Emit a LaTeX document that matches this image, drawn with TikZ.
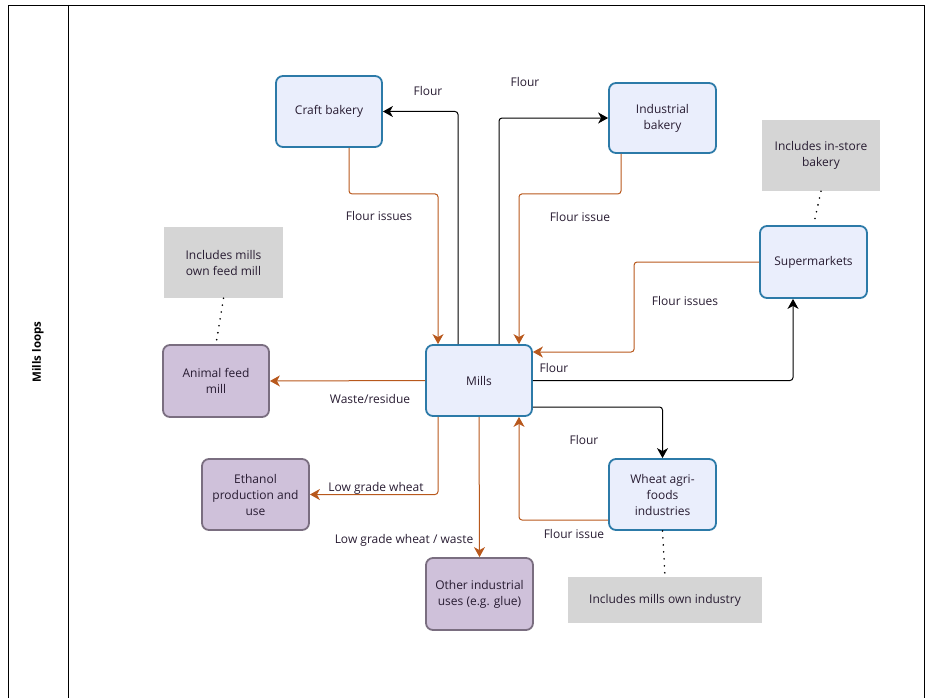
\documentclass[tikz,border=0pt]{standalone}
\usepackage{fontspec}
\setmainfont{Open Sans}
\usetikzlibrary{arrows.meta}
\definecolor{bborder}{RGB}{44,122,168}
\definecolor{bfill}{RGB}{234,238,252}
\definecolor{pborder}{RGB}{122,110,128}
\definecolor{pfill}{RGB}{207,193,218}
\definecolor{notefill}{RGB}{213,213,213}
\definecolor{flow}{RGB}{184,88,28}
\definecolor{txt}{RGB}{40,28,50}
\begin{document}
\begin{tikzpicture}[x=1pt,y=-1pt,
  every node/.style={font=\fontsize{12}{16}\selectfont, text=txt},
  bluebox/.style={draw=bborder, fill=bfill, line width=1.8pt, rounded corners=7pt, align=center, inner sep=2pt},
  purplebox/.style={draw=pborder, fill=pfill, line width=1.8pt, rounded corners=7pt, align=center, inner sep=2pt},
  notebox/.style={fill=notefill, align=center, inner sep=2pt},
  blk/.style={draw=black, line width=1pt, rounded corners=3pt, -{Stealth[length=10pt,width=11pt,inset=3pt]}},
  org/.style={draw=flow, line width=1pt, rounded corners=3pt, -{Stealth[length=10pt,width=11pt,inset=3pt]}},
  dotline/.style={draw=black, line width=1.8pt, line cap=round, dash pattern=on 0pt off 7pt},
  lbl/.style={inner sep=1pt}
]
\useasboundingbox (0,0) rectangle (925,698);
% frame
\draw[line width=0.9pt] (8,698) -- (8,5) -- (924,5) -- (924,698);
\draw[line width=0.9pt] (68,5) -- (68,698);
\node[rotate=90, font=\fontsize{11.5}{15}\selectfont\bfseries, text=black] (lane) at (38,352) {Mills loops};

% nodes
\node[bluebox, minimum width=106, minimum height=71] (craft) at (329,111.5) {Craft bakery};
\node[bluebox, minimum width=107, minimum height=70] (indus) at (662.5,118) {Industrial\\bakery};
\node[notebox, minimum width=118, minimum height=71] (storenote) at (821,155.5) {Includes in-store\\bakery};
\node[bluebox, minimum width=107, minimum height=72] (super) at (813.5,262) {Supermarkets};
\node[notebox, minimum width=119, minimum height=71] (feednote) at (223.5,262.5) {Includes mills\\own feed mill};
\node[purplebox, minimum width=106, minimum height=72] (feed) at (216,381) {Animal feed\\mill};
\node[bluebox, minimum width=106, minimum height=71] (mills) at (479,380.5) {Mills};
\node[purplebox, minimum width=107, minimum height=71] (eth) at (255.5,494.5) {Ethanol\\production and\\use};
\node[purplebox, minimum width=107, minimum height=72] (other) at (479.5,594) {Other industrial\\uses (e.g. glue)};
\node[bluebox, minimum width=107, minimum height=71] (wheat) at (662.5,494.5) {Wheat agri-\\foods\\industries};
\node[notebox, minimum width=194, minimum height=46] (indnote) at (665,600) {Includes mills own industry};

% connectors
\draw[blk] ([xshift=-21pt]mills.north) |- (craft.east);
\node[lbl] (l1) at (428,91) {Flour};
\draw[blk] ([xshift=20pt]mills.north) |- (indus.west);
\node[lbl] (l2) at (525,82) {Flour};
\draw[org] ([xshift=20pt]craft.south) -- ++(0,46) -| ([xshift=-41pt]mills.north);
\node[lbl] (l3) at (379,216) {Flour issues};
\draw[org] ([xshift=-41.5pt]indus.south) -- ++(0,40) -| ([xshift=40pt]mills.north);
\node[lbl] (l4) at (580,217) {Flour issue};
\draw[org] (super.west) -- ++(-125,0) |- ([yshift=28.5pt]mills.east);
\node[lbl] (l5) at (685,301) {Flour issues};
\draw[blk] (mills.east) -| ([xshift=-20.5pt]super.south);
\node[lbl] (l6) at (554,368) {Flour};
\draw[blk] ([yshift=-26.5pt]mills.east) -| (wheat.north);
\node[lbl] (l7) at (584,440) {Flour};
\draw[org] ([yshift=-25.5pt]wheat.west) -| ([xshift=40pt]mills.south);
\node[lbl] (l8) at (574,534) {Flour issue};
\draw[org] (mills.west) -- (feed.east);
\node[lbl] (l9) at (370,399) {Waste/residue};
\draw[org] ([xshift=-41pt]mills.south) |- (eth.east);
\node[lbl] (l10) at (376,488) {Low grade wheat};
\draw[org] (mills.south) -- (other.north);
\node[lbl] (l11) at (404,540) {Low grade wheat / waste};

% dotted links
\draw[dotline] (feednote.south) -- (feed.north);
\draw[dotline] (storenote.south) -- (super.north);
\draw[dotline] (wheat.south) -- (indnote.north);
\end{tikzpicture}
\end{document}
